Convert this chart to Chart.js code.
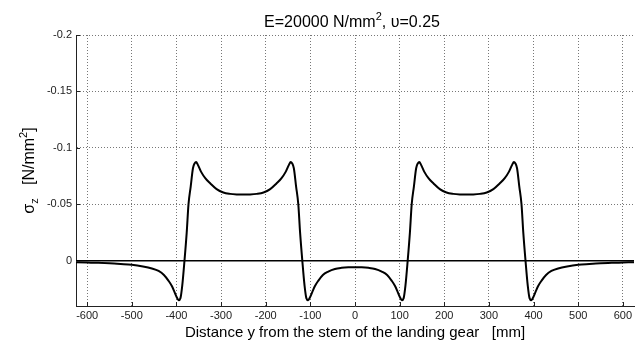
<!DOCTYPE html>
<html>
<head>
<meta charset="utf-8">
<script src="https://cdn.jsdelivr.net/npm/chart.js"></script>
<style>
html, body { margin: 0; padding: 0; background: #fff; }
#wrap { width: 637px; height: 342px; }
</style>
</head>
<body>
<div id="wrap"><canvas id="grafico"></canvas></div>
<script>
// distance y from the stem [mm] and vertical stress sigma_z [N/mm2]
const distance = [
    -625, -600, -575, -550, -525, -500, -475, -455, -440, -428, -418, -410, -404, -399, -395, -391,
    -387, -382, -377, -373, -368, -363, -359, -356, -352, -345, -335, -324, -310, -295, -280, -265,
    -250, -235, -220, -205, -190, -176, -165, -155, -148, -144, -141, -137, -132, -127, -123, -118,
    -113, -109, -105, -101, -96, -90, -82, -72, -60, -45, -30, -15, 0,
    15, 30, 45, 60, 72, 82, 90, 96, 101, 105, 109, 113, 118, 123, 127, 132,
    137, 141, 144, 148, 155, 165, 176, 190, 205, 220, 235, 250, 265, 280, 295, 310,
    324, 335, 345, 352, 356, 359, 363, 368, 373, 377, 382, 387, 391, 395, 399, 404,
    410, 418, 428, 440, 455, 475, 500, 525, 550, 575, 600, 625
];
const sigmaZ = [
    0.0012, 0.0015, 0.0018, 0.0022, 0.0028, 0.0035, 0.005, 0.0068, 0.009, 0.0125, 0.0175, 0.0225, 0.028, 0.0325, 0.0348, 0.033,
    0.022, 0, -0.025, -0.05, -0.066, -0.082, -0.0865, -0.0875, -0.085, -0.079, -0.073, -0.0685, -0.0635, -0.0605, -0.0593, -0.0588,
    -0.0587, -0.0588, -0.0593, -0.0605, -0.0635, -0.0685, -0.073, -0.079, -0.085, -0.0875, -0.0865, -0.082, -0.066, -0.05, -0.025, 0,
    0.022, 0.033, 0.0348, 0.0325, 0.028, 0.0225, 0.0175, 0.0125, 0.0095, 0.0072, 0.0062, 0.0057, 0.0056,
    0.0057, 0.0062, 0.0072, 0.0095, 0.0125, 0.0175, 0.0225, 0.028, 0.0325, 0.0348, 0.033, 0.022, 0, -0.025, -0.05, -0.066,
    -0.082, -0.0865, -0.0875, -0.085, -0.079, -0.073, -0.0685, -0.0635, -0.0605, -0.0593, -0.0588, -0.0587, -0.0588, -0.0593, -0.0605, -0.0635,
    -0.0685, -0.073, -0.079, -0.085, -0.0875, -0.0865, -0.082, -0.066, -0.05, -0.025, 0, 0.022, 0.033, 0.0348, 0.0325, 0.028,
    0.0225, 0.0175, 0.0125, 0.009, 0.0068, 0.005, 0.0035, 0.0028, 0.0022, 0.0018, 0.0015, 0.0012
];

const xTicks = [-600, -500, -400, -300, -200, -100, 0, 100, 200, 300, 400, 500, 600];
const yTicks = [-0.2, -0.15, -0.1, -0.05, 0];
const xRange = [-625, 625];
const yRange = [-0.2, 0.04];

const FONT = '"Liberation Sans", Arial, sans-serif';

// writes a line of text pieces (for sub/superscripts), centred on cx
function drawRuns(ctx, runs, cx, cy, angle) {
    ctx.save();
    ctx.translate(cx, cy);
    ctx.rotate(angle || 0);
    ctx.textAlign = 'left';
    ctx.textBaseline = 'alphabetic';
    let total = 0;
    runs.forEach(r => {
        ctx.font = r.size + 'px ' + FONT;
        r.w = ctx.measureText(r.t).width;
        total += r.w;
    });
    let x = -total / 2;
    runs.forEach(r => {
        ctx.font = r.size + 'px ' + FONT;
        ctx.fillText(r.t, x, r.dy || 0);
        x += r.w;
    });
    ctx.restore();
}

const labels = {
    id: 'labels',
    afterDraw(chart) {
        const ctx = chart.ctx;
        const area = chart.chartArea;
        const cx = (area.left + area.right) / 2;
        const cy = (area.top + area.bottom) / 2;
        ctx.save();
        ctx.fillStyle = '#000';
        drawRuns(ctx, [
            { t: 'E=20000 N/mm', size: 16 },
            { t: '2', size: 11, dy: -7 },
            { t: ', \u03C5=0.25', size: 16 }
        ], cx - 3, 27);
        drawRuns(ctx, [
            { t: '\u03C3', size: 16 },
            { t: 'z', size: 11, dy: 4 },
            { t: '   [N/mm', size: 16 },
            { t: '2', size: 11, dy: -7 },
            { t: ']', size: 16 }
        ], 34, cy, -Math.PI / 2);
        drawRuns(ctx, [
            { t: 'Distance y from the stem of the landing gear   [mm]', size: 15 }
        ], cx, 337);
        ctx.restore();
    }
};

// small tick marks pointing into the plot
const innerTicks = {
    id: 'innerTicks',
    afterDatasetsDraw(chart) {
        const ctx = chart.ctx;
        const area = chart.chartArea;
        const sx = chart.scales.x;
        const sy = chart.scales.y;
        ctx.save();
        ctx.strokeStyle = '#222';
        ctx.lineWidth = 1;
        ctx.beginPath();
        xTicks.forEach(v => {
            const px = Math.round(sx.getPixelForValue(v)) + 0.5;
            ctx.moveTo(px, area.bottom);
            ctx.lineTo(px, area.bottom - 4);
        });
        yTicks.forEach(v => {
            const py = Math.round(sy.getPixelForValue(v)) + 0.5;
            ctx.moveTo(area.left, py);
            ctx.lineTo(area.left + 4, py);
        });
        ctx.stroke();
        ctx.restore();
    }
};

const ctx = document.getElementById('grafico').getContext('2d');

new Chart(ctx, {
    type: 'line',
    data: {
        datasets: [{
            data: distance.map((d, i) => ({ x: d, y: sigmaZ[i] })),
            borderColor: '#000',
            borderWidth: 2,
            pointRadius: 0,
            cubicInterpolationMode: 'monotone',
            fill: false
        }, {
            data: [{ x: xRange[0], y: 0 }, { x: xRange[1], y: 0 }],
            borderColor: '#000',
            borderWidth: 1.5,
            pointRadius: 0,
            fill: false
        }]
    },
    options: {
        animation: false,
        responsive: true,
        maintainAspectRatio: false,
        layout: { padding: { top: 35, right: 3, left: 0, bottom: 0 } },
        plugins: {
            legend: { display: false },
            title: { display: false },
            tooltip: { enabled: false }
        },
        scales: {
            x: {
                type: 'linear',
                min: xRange[0],
                max: xRange[1],
                afterBuildTicks: scale => { scale.ticks = xTicks.map(v => ({ value: v })); },
                afterFit: scale => { scale.height = 36; },
                ticks: {
                    padding: 3,
                    maxRotation: 0,
                    color: '#222',
                    font: { family: FONT, size: 11 },
                    callback: v => String(v)
                },
                grid: {
                    color: '#777',
                    lineWidth: 1,
                    drawTicks: false
                },
                border: { display: true, color: '#222', width: 1, dash: [1, 2] }
            },
            y: {
                type: 'linear',
                reverse: true,
                min: yRange[0],
                max: yRange[1],
                afterBuildTicks: scale => { scale.ticks = yTicks.map(v => ({ value: v })); },
                afterFit: scale => { scale.width = 76; },
                ticks: {
                    padding: 4,
                    color: '#222',
                    font: { family: FONT, size: 11 },
                    callback: v => String(v)
                },
                grid: {
                    color: '#777',
                    lineWidth: 1,
                    drawTicks: false
                },
                border: { display: true, color: '#222', width: 1, dash: [1, 2] }
            }
        }
    },
    plugins: [innerTicks, labels]
});
</script>
</body>
</html>
